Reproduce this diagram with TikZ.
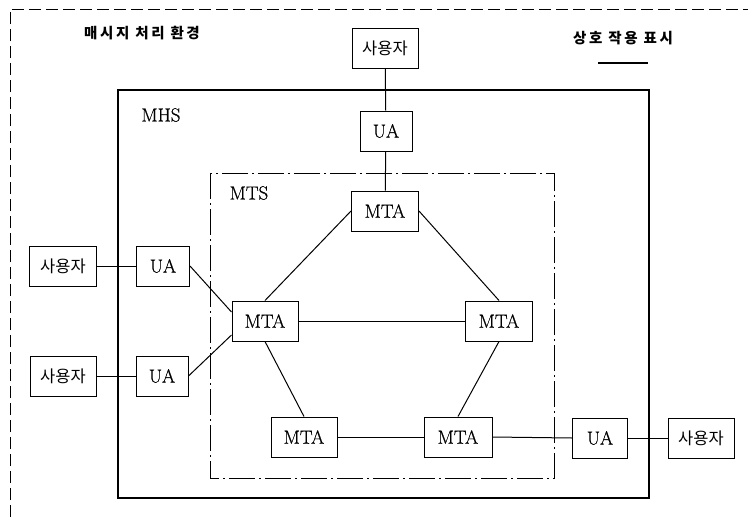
\documentclass[tikz,border=0pt]{standalone}
\usepackage{fontspec}
\newfontfamily\kr{Noto Sans CJK KR}
\newfontfamily\krsp[LetterSpace=18]{Noto Sans CJK KR}
\newfontfamily\lmheavy[FakeBold=0.6]{Latin Modern Roman}
\tikzset{
  box/.style={draw, line width=1pt, inner sep=0pt, minimum height=40pt, font=\lmheavy\fontsize{19}{21}\selectfont},
  ubox/.style={box, font=\kr\fontsize{16.5}{18}\selectfont},
  link/.style={line width=1pt},
  lbl/.style={inner sep=0pt, font=\lmheavy\fontsize{19}{21}\selectfont},
  krlbl/.style={inner sep=0pt, font=\krsp\bfseries\fontsize{14.5}{16}\selectfont},
}
\begin{document}
\begin{tikzpicture}[x=1pt,y=-1pt]
\useasboundingbox (0,0) rectangle (748,517);
% outer environment (dashed)
\coordinate (envbl) at (10,517);
\coordinate (envtl) at (10,9);
\coordinate (envtr) at (748,9);
\draw[line width=1pt, dash pattern=on 12pt off 5pt] (envbl) -- (envtl) -- (envtr);
% MHS
\draw[line width=1.8pt] (118,90) rectangle (649,498);
% MTS
\draw[line width=1pt, dash pattern=on 26pt off 4pt on 2pt off 4pt] (210,173) rectangle (554,478);
% labels
\node[krlbl] (envlbl) at (142,33) {매시지 처리 환경};
\node[krlbl] (leglbl) at (623,38) {상호 작용 표시};
\coordinate (lega) at (598,63);
\coordinate (legb) at (648,63);
\draw[line width=1.4pt] (lega) -- (legb);
\node[lbl] (mhs) at (161,115) {MHS};
\node[lbl] (mts) at (249,193) {MTS};
% nodes
\node[ubox, minimum width=66pt] (utop) at (385,48) {사용자};
\node[box, minimum width=52pt] (uatop) at (386,131) {UA};
\node[box, minimum width=67pt] (mtat) at (385,211) {MTA};
\node[box, minimum width=66pt] (mtal) at (265,321) {MTA};
\node[box, minimum width=67pt] (mtar) at (499,321) {MTA};
\node[box, minimum width=66pt] (mtabl) at (304,437) {MTA};
\node[box, minimum width=68pt] (mtabr) at (458,437) {MTA};
\node[box, minimum width=55pt] (uar) at (600,438) {UA};
\node[ubox, minimum width=66pt] (ur) at (701,438) {사용자};
\node[ubox, minimum width=67pt] (ul1) at (63,266) {사용자};
\node[box, minimum width=53pt] (ual1) at (163,266) {UA};
\node[ubox, minimum width=66pt] (ul2) at (63,376) {사용자};
\node[box, minimum width=52pt] (ual2) at (162,376) {UA};
% connectors
\draw[link] (utop) -- (uatop);
\draw[link] (uatop) -- (mtat);
\draw[link] (mtat.west) -- (mtal.north);
\draw[link] (mtat.east) -- (mtar.north);
\draw[link] (mtar.west) -- (mtal.east);
\draw[link] (mtal.south) -- (mtabl.north);
\draw[link] (mtar.south) -- (mtabr.north);
\draw[link] (mtabl.east) -- (mtabr.west);
\draw[link] (mtabr.east) -- (uar.west);
\draw[link] (uar.east) -- (ur.west);
\draw[link] (ul1.east) -- (ual1.west);
\draw[link] (ul2.east) -- (ual2.west);
\draw[link] (ual1.east) -- ([yshift=9pt]mtal.west);
\draw[link] (ual2.east) -- ([yshift=-14pt]mtal.west);
\end{tikzpicture}
\end{document}
